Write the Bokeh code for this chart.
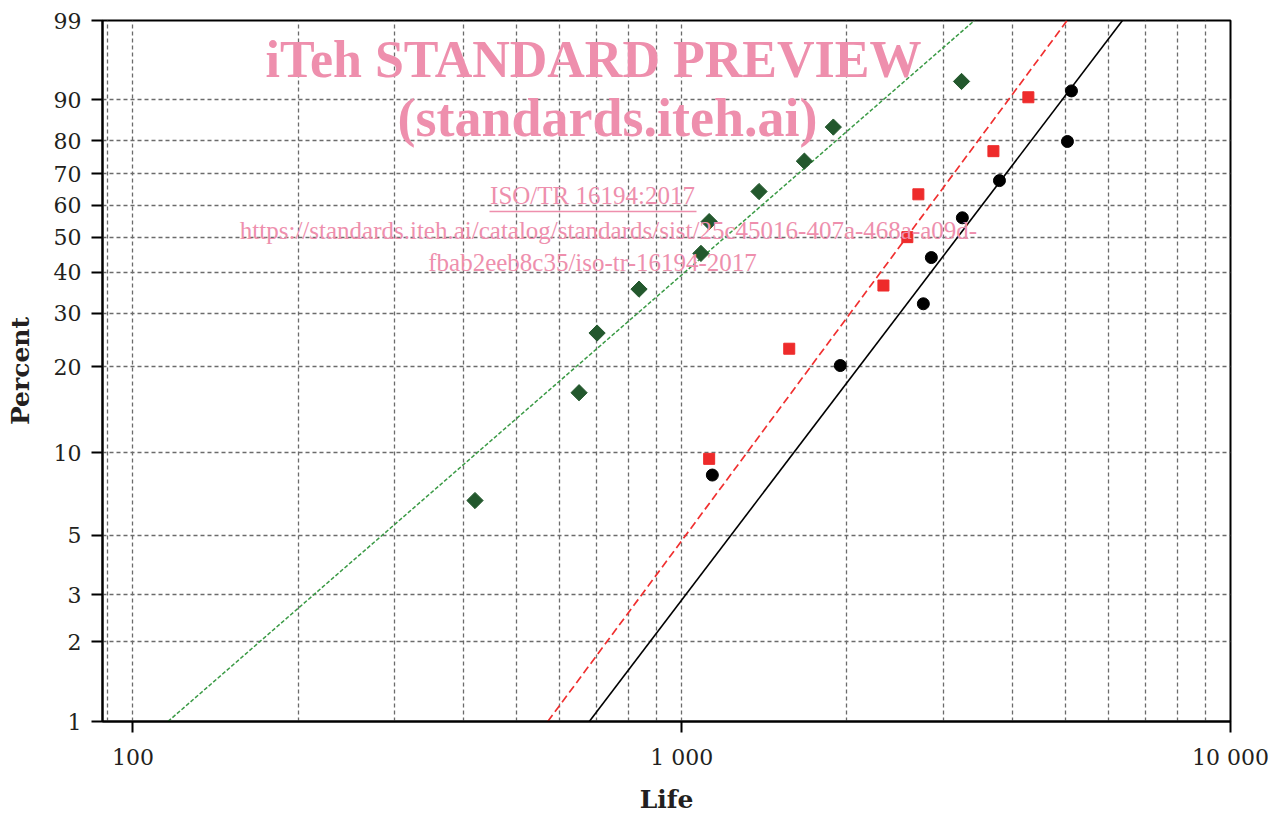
import numpy as np
from bokeh.plotting import figure
from bokeh.models import Range1d, FixedTicker, CustomJSTickFormatter, Label
from bokeh.embed import file_html
from bokeh.resources import INLINE

# ---------------- data ----------------
percent_ticks = [1, 2, 3, 5, 10, 20, 30, 40, 50, 60, 70, 80, 90, 99]
life_major = [100, 1000, 10000]
life_minor = [90, 200, 300, 400, 500, 600, 700, 800, 900,
              2000, 3000, 4000, 5000, 6000, 7000, 8000, 9000]

green_life = [420, 650, 701, 836, 1084, 1122, 1383, 1673, 1889, 3235]
green_pct = [6.7, 16.3, 25.9, 35.6, 45.2, 54.8, 64.4, 74.0, 83.7, 93.3]

red_life = [1122, 1570, 2331, 2577, 2699, 3698, 4282]
red_pct = [9.5, 23.0, 36.5, 50.0, 63.5, 77.0, 90.5]

black_life = [1137, 1945, 2756, 2850, 3246, 3793, 5045, 5131]
black_pct = [8.3, 20.2, 32.1, 44.0, 56.0, 67.9, 79.8, 91.7]

fit_pct = [1, 99]
green_fit_life = [115.8, 3415]
red_fit_life = [570, 5039]
black_fit_life = [678.5, 6355]


def wb(p):
    """Weibull probability-paper transform of a percentage."""
    return np.log(-np.log(1.0 - np.asarray(p, dtype=float) / 100.0))


Y0, Y1 = float(wb(1)), float(wb(99))
X0, X1 = 88.0, 10000.0

# frame edges in page pixels (used for layout and watermark placement)
FL, FT, FR, FB = 102, 20, 1230, 721
W, H = 1280, 816


def at(px, py):
    lx = np.log10(X0) + (px - FL) / (FR - FL) * (np.log10(X1) - np.log10(X0))
    y = Y1 - (py - FT) / (FB - FT) * (Y1 - Y0)
    return 10 ** lx, y


SERIF = "DejaVu Serif"

p = figure(width=W, height=H, x_axis_type="log",
           x_range=Range1d(X0, X1), y_range=Range1d(Y0, Y1),
           output_backend="svg", toolbar_location=None,
           min_border_left=FL, min_border_right=W - FR,
           min_border_top=FT, min_border_bottom=H - FB)
p.background_fill_color = "white"
p.border_fill_color = "white"
p.outline_line_color = "black"
p.outline_line_width = 2
p.outline_line_alpha = 1

# axes
p.xaxis.ticker = FixedTicker(ticks=life_major, minor_ticks=[])
p.xaxis.formatter = CustomJSTickFormatter(code="""
    const s = String(Math.round(tick));
    return s.replace(/\\B(?=(\\d{3})+(?!\\d))/g, ' ');
""")
p.yaxis.ticker = FixedTicker(ticks=[float(v) for v in wb(percent_ticks)], minor_ticks=[])
p.yaxis.formatter = CustomJSTickFormatter(code="""
    return String(Math.round(100 * (1 - Math.exp(-Math.exp(tick)))));
""")
for ax in (p.xaxis, p.yaxis):
    ax.axis_line_color = "black"
    ax.axis_line_width = 2
    ax.major_tick_line_color = "black"
    ax.major_tick_line_width = 2
    ax.major_tick_out = 11
    ax.major_tick_in = 0
    ax.minor_tick_line_color = None
    ax.major_label_text_font = SERIF
    ax.major_label_text_font_size = "22px"
    ax.major_label_text_color = "#231f20"
    ax.axis_label_text_font = SERIF
    ax.axis_label_text_font_style = "bold"
    ax.axis_label_text_font_size = "25px"
    ax.axis_label_text_color = "#231f20"
p.xaxis.axis_label = "Life"
p.yaxis.axis_label = "Percent"
p.xaxis.major_label_standoff = 12
p.yaxis.major_label_standoff = 10
p.xaxis.axis_label_standoff = 12
p.yaxis.axis_label_standoff = 16

# grid
p.xgrid.ticker = FixedTicker(ticks=life_major + life_minor)
p.ygrid.ticker = FixedTicker(ticks=[float(v) for v in wb(percent_ticks)])
for g in (p.xgrid, p.ygrid):
    g.grid_line_color = "#6b6b6b"
    g.grid_line_width = 1.3
    g.grid_line_dash = "4 3"

# watermark
PINK = "#ee8fad"


def mark(text, px, py, size, bold=False):
    x, y = at(px, py)
    p.add_layout(Label(x=x, y=y, text=text, text_align="center",
                       text_baseline="middle", text_font="Liberation Serif",
                       text_font_style="bold" if bold else "normal",
                       text_font_size=size, text_color=PINK))


mark("iTeh STANDARD PREVIEW", 593, 59, "52px", bold=True)
mark("(standards.iteh.ai)", 607, 117, "54px", bold=True)
mark("ISO/TR 16194:2017", 592, 195, "25px")
mark("https://standards.iteh.ai/catalog/standards/sist/25c45016-407a-468a-a09d-", 608, 230, "25px")
mark("fbab2eeb8c35/iso-tr-16194-2017", 592, 262, "25px")
ux0, uy = at(489, 211)
ux1, _ = at(696, 211)
p.line([ux0, ux1], [uy, uy], line_color=PINK, line_width=1.5)

# fit lines
p.line(green_fit_life, wb(fit_pct), line_color="#3a9a45", line_width=1.5, line_dash="4 2")
p.line(red_fit_life, wb(fit_pct), line_color="#f03030", line_width=1.7, line_dash="8 4")
p.line(black_fit_life, wb(fit_pct), line_color="black", line_width=1.6)

# points
p.scatter(green_life, wb(green_pct), marker="square", angle=np.pi / 4, size=11.5,
          fill_color="#23582d", line_color="#23582d")
p.scatter(red_life, wb(red_pct), marker="square", size=11,
          fill_color="#ee2b2b", line_color="#ee2b2b")
p.scatter(black_life, wb(black_pct), marker="circle", size=12,
          fill_color="black", line_color="black")

open("out.html", "w").write(file_html(p, INLINE))
